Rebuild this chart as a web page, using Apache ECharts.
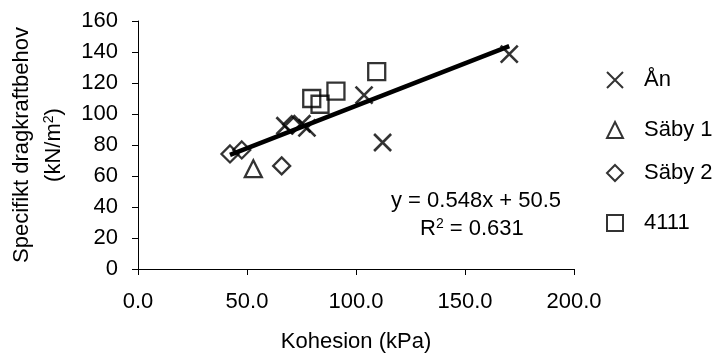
<!DOCTYPE html>
<html>
<head>
<meta charset="utf-8">
<script src="https://cdn.jsdelivr.net/npm/echarts@6/dist/echarts.min.js"></script>
<style>
  html, body { margin: 0; padding: 0; background: #fff; }
  #chart { width: 717px; height: 358px; }
</style>
</head>
<body>
<div id="chart"></div>
<script>
// data: [Kohesion (kPa), dragkraftbehov (kN/m2)]
const anData = [[67.4, 92.4], [75.2, 93.7], [77.5, 91.1], [103.7, 112.2], [112.2, 81.6], [170.3, 138.6]]
const saby1Data = [[52.9, 64.7]]
const saby2Data = [[42.2, 74.2], [47.6, 76.8], [65.9, 66.5], [70.5, 93.2]]
const data4111 = [[79.7, 110.0], [83.5, 106.3], [90.8, 114.7], [109.5, 127.4]]
const seriesNames = ['Ån', 'Säby 1', 'Säby 2', '4111']
const slope = 0.548
const intercept = 50.5
const trendRange = [42.2, 170.3]

const font = 'Liberation Sans, Arial, sans-serif'
const crossPath = 'path://M0,0L10,10M10,0L0,10'

const trendData = trendRange.map(x => [x, slope * x + intercept])

const chart = echarts.init(document.getElementById('chart'))

function marker(name, symbol, data, size, width) {
  return {
    name: name,
    type: 'scatter',
    symbol: symbol,
    symbolSize: size,
    data: data,
    itemStyle: { color: 'transparent', borderColor: '#000', borderWidth: width },
    z: 2
  }
}

function legendAt(name, top) {
  return {
    data: [name],
    left: 601,
    top: top,
    orient: 'vertical',
    itemWidth: 16,
    itemHeight: 16,
    selectedMode: false,
    textStyle: { fontFamily: font, fontSize: 22, color: '#000', padding: [0, 0, 0, 16] }
  }
}

chart.setOption({
  animation: false,
  grid: { left: 138, right: 143, top: 21, bottom: 83 },
  legend: [
    legendAt(seriesNames[0], 64),
    legendAt(seriesNames[1], 114),
    legendAt(seriesNames[2], 157),
    legendAt(seriesNames[3], 207)
  ],
  xAxis: {
    type: 'value',
    min: 0,
    max: 200,
    interval: 50,
    name: 'Kohesion (kPa)',
    nameLocation: 'middle',
    nameGap: 62,
    nameTextStyle: { fontFamily: font, fontSize: 22, color: '#000' },
    axisLine: { lineStyle: { color: '#000', width: 1 } },
    axisTick: { inside: false, length: 6, lineStyle: { color: '#000' } },
    axisLabel: { fontFamily: font, fontSize: 22, color: '#000', margin: 22, formatter: v => v.toFixed(1) },
    splitLine: { show: false }
  },
  yAxis: {
    type: 'value',
    min: 0,
    max: 160,
    interval: 20,
    name: '{a|Specifikt dragkraftbehov}\n{a|(kN/m}{s|2}{a|)}',
    nameLocation: 'middle',
    nameGap: 68,
    nameTextStyle: {
      fontFamily: font, fontSize: 22, color: '#000',
      rich: {
        a: { fontFamily: font, fontSize: 22, color: '#000', lineHeight: 32 },
        s: { fontFamily: font, fontSize: 14, color: '#000', padding: [0, 0, 10, 0] }
      }
    },
    axisLine: { show: true, lineStyle: { color: '#000', width: 1 } },
    axisTick: { show: true, inside: false, length: 6, lineStyle: { color: '#000' } },
    axisLabel: { fontFamily: font, fontSize: 22, color: '#000', margin: 20 },
    splitLine: { show: false }
  },
  graphic: [
    {
      type: 'text',
      left: 391,
      top: 190,
      style: { text: 'y = 0.548x + 50.5', fontFamily: font, fontSize: 22, fill: '#000' }
    },
    {
      type: 'text',
      left: 420,
      top: 217,
      style: {
        text: '{a|R}{s|2}{a| = 0.631}',
        rich: {
          a: { fontFamily: font, fontSize: 22, fill: '#000' },
          s: { fontFamily: font, fontSize: 14, fill: '#000', padding: [0, 0, 10, 0] }
        }
      }
    }
  ],
  series: [
    marker(seriesNames[0], crossPath, anData, 17, 2.6),
    marker(seriesNames[1], 'triangle', saby1Data, 17, 2.3),
    marker(seriesNames[2], 'diamond', saby2Data, 17, 2.3),
    marker(seriesNames[3], 'rect', data4111, 17, 2.3),
    {
      name: 'trend',
      type: 'line',
      data: trendData,
      symbol: 'none',
      lineStyle: { color: '#000', width: 4.5 },
      z: 3
    }
  ]
})
</script>
</body>
</html>
